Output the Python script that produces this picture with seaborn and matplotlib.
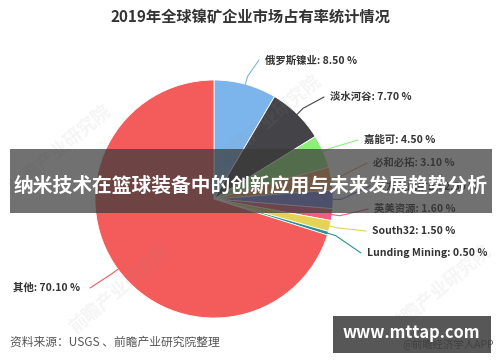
import matplotlib
matplotlib.use("Agg")
import matplotlib.pyplot as plt
import seaborn as sns
import numpy as np
from matplotlib.patches import Rectangle

companies = ["俄罗斯镍业", "淡水河谷", "嘉能可", "必和必拓", "住友金属矿山",
             "英美资源", "South32", "Lunding Mining", "其他"]
shares = [8.5, 7.7, 4.5, 3.1, 2.5, 1.6, 1.5, 0.5, 70.1]
colors = ["#7cb5ec", "#434348", "#90ed7d", "#f7a35c", "#8085e9",
          "#f15c80", "#e4d354", "#2b908f", "#f45b5b"]
title = "2019年全球镍矿企业市场占有率统计情况"
source = "资料来源：USGS 、前瞻产业研究院整理"
banner = "纳米技术在篮球装备中的创新应用与未来发展趋势分析"
site = "www.mttap.com"

sns.set_theme(style="white")
plt.rcParams['font.family'] = ['Noto Sans CJK SC', 'DejaVu Sans']

W, H = 500, 362
fig = plt.figure(figsize=(5, 3.62), dpi=100)
ax = fig.add_axes([0, 0, 1, 1])

def Y(y):
    return H - y

cx, cy, R = 214, Y(199), 119
pal = sns.color_palette(colors)
wedges, _ = ax.pie(shares, colors=pal, startangle=90, counterclock=False,
                   center=(cx, cy), radius=R, frame=True,
                   wedgeprops=dict(edgecolor="white", linewidth=0.6))
ax.set_xlim(0, W)
ax.set_ylim(0, H)
ax.set_aspect('equal')
ax.axis('off')

# label layout (pixels): left x, center y
label_pos = [(265, 60), (330, 97), (364, 140), (373, 163), (376, 186),
             (374, 209), (372, 231), (367, 253), (13, 288)]
for w, name, val, (lx, ly), col in zip(wedges, companies, shares, label_pos, pal):
    mid = np.deg2rad((w.theta1 + w.theta2) / 2)
    ex, ey = cx + (R - 2) * np.cos(mid), cy + (R - 2) * np.sin(mid)
    txt = f"{name}: {val:.2f} %"
    ax.text(lx, Y(ly), txt, fontsize=7.5, fontweight='bold', color='#333333',
            ha='left', va='center')
    sx = lx + 77 if lx < cx else lx - 6
    ox, oy = cx + (R + 8) * np.cos(mid), cy + (R + 8) * np.sin(mid)
    ax.plot([ex, ox, sx], [ey, oy, Y(ly)], color=col, lw=0.8, zorder=1)

ax.text(250, Y(17), title, fontsize=11, fontweight='bold', color='#333333',
        ha='center', va='center')
ax.text(10, Y(342), source, fontsize=8.5, color='#555555', ha='left', va='center')
ax.text(494, Y(344), "@前瞻经济学人APP", fontsize=7.5, color='#666666', ha='right', va='center')

# watermarks
for (wx, wy) in [(120, 290), (270, 120), (440, 290), (60, 150)]:
    ax.text(wx, Y(wy), "前瞻产业研究院", fontsize=13, color='#999999', alpha=0.1,
            rotation=40, ha='center', va='center', fontweight='bold')

# overlay banners
ax.add_patch(Rectangle((10, Y(213)), 482, 64, facecolor='#3a3a3a', alpha=0.72,
                       edgecolor='none', zorder=5))
ax.text(251, Y(185), banner, fontsize=14.2, fontweight='bold', color='white',
        ha='center', va='center', zorder=6)
ax.add_patch(Rectangle((333, Y(353)), 158, 37, facecolor='#3a3a3a', alpha=0.85,
                       edgecolor='none', zorder=5))
ax.text(411, Y(333), site, fontsize=11.8, fontweight='bold', color='white',
        ha='center', va='center', zorder=6)

fig.savefig("out.png", dpi=100)
